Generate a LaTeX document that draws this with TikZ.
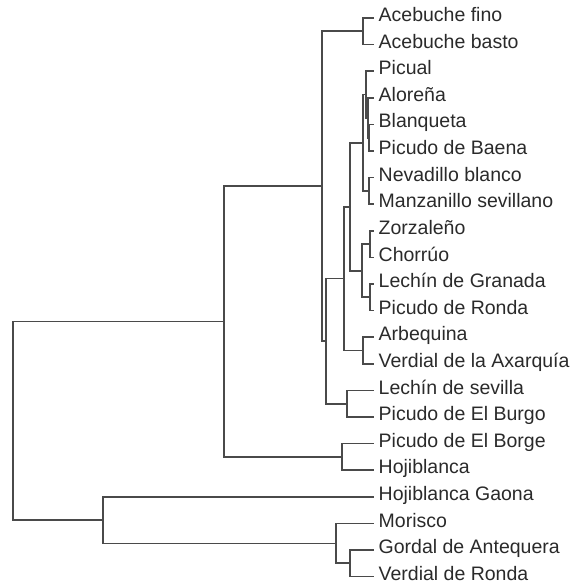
\documentclass[tikz,border=0pt]{standalone}
\usepackage{fontspec}
\setmainfont{Liberation Sans}
\definecolor{txt}{HTML}{2A2A2A}
\definecolor{ln}{HTML}{4A4A4A}
\begin{document}
\begin{tikzpicture}[x=1pt,y=-1pt,
  leaf/.style={anchor=west,inner xsep=5.5pt,inner ysep=0pt,text height=0.72em,text depth=0pt,
    font=\fontsize{19.5}{19.5}\selectfont,text=txt},
  branch/.style={draw=ln,line width=1.7pt,line cap=rect}]
\useasboundingbox (0,0) rectangle (572,585);
% leaves
\node[leaf] (l0) at (373,18.0) {Acebuche fino};
\node[leaf] (l1) at (373,44.6) {Acebuche basto};
\node[leaf] (l2) at (373,71.2) {Picual};
\node[leaf] (l3) at (373,97.8) {Aloreña};
\node[leaf] (l4) at (373,124.4) {Blanqueta};
\node[leaf] (l5) at (373,151.0) {Picudo de Baena};
\node[leaf] (l6) at (373,177.6) {Nevadillo blanco};
\node[leaf] (l7) at (373,204.2) {Manzanillo sevillano};
\node[leaf] (l8) at (373,230.8) {Zorzaleño};
\node[leaf] (l9) at (373,257.4) {Chorrúo};
\node[leaf] (l10) at (373,284.0) {Lechín de Granada};
\node[leaf] (l11) at (373,310.6) {Picudo de Ronda};
\node[leaf] (l12) at (373,337.2) {Arbequina};
\node[leaf] (l13) at (373,363.8) {Verdial de la Axarquía};
\node[leaf] (l14) at (373,390.4) {Lechín de sevilla};
\node[leaf] (l15) at (373,417.0) {Picudo de El Burgo};
\node[leaf] (l16) at (373,443.6) {Picudo de El Borge};
\node[leaf] (l17) at (373,470.2) {Hojiblanca};
\node[leaf] (l18) at (373,496.8) {Hojiblanca Gaona};
\node[leaf] (l19) at (373,523.4) {Morisco};
\node[leaf] (l20) at (373,550.0) {Gordal de Antequera};
\node[leaf] (l21) at (373,576.6) {Verdial de Ronda};
% internal nodes
\coordinate (ace) at (363,31.3);
\coordinate (p369) at (369,137.7);
\coordinate (p368) at (368,117.75);
\coordinate (p366) at (366,94.5);
\coordinate (nevman) at (369,190.9);
\coordinate (n363) at (363,142.7);
\coordinate (zorcho) at (370,244.1);
\coordinate (lecpic) at (370,297.3);
\coordinate (n362) at (362,270.7);
\coordinate (n350) at (350,206.7);
\coordinate (arb) at (363,350.5);
\coordinate (n344) at (344,278.6);
\coordinate (ls) at (347,403.7);
\coordinate (nx) at (326,341.15);
\coordinate (na) at (322,186.2);
\coordinate (eb) at (342,456.9);
\coordinate (nu) at (224,321.6);
\coordinate (gv) at (350,563.3);
\coordinate (mor) at (336,543.35);
\coordinate (nl) at (103,520.1);
\coordinate (root) at (13,420.8);
% branches
\draw[branch] (root) |- (nu);
\draw[branch] (root) |- (nl);
\draw[branch] (nu) |- (na);
\draw[branch] (nu) |- (eb);
\draw[branch] (na) |- (ace);
\draw[branch] (na) |- (nx);
\draw[branch] (ace) |- (l0.west);
\draw[branch] (ace) |- (l1.west);
\draw[branch] (nx) |- (n344);
\draw[branch] (nx) |- (ls);
\draw[branch] (n344) |- (n350);
\draw[branch] (n344) |- (arb);
\draw[branch] (n350) |- (n363);
\draw[branch] (n350) |- (n362);
\draw[branch] (n363) |- (p366);
\draw[branch] (n363) |- (nevman);
\draw[branch] (p366) |- (l2.west);
\draw[branch] (p366) |- (p368);
\draw[branch] (p368) |- (l3.west);
\draw[branch] (p368) |- (p369);
\draw[branch] (p369) |- (l4.west);
\draw[branch] (p369) |- (l5.west);
\draw[branch] (nevman) |- (l6.west);
\draw[branch] (nevman) |- (l7.west);
\draw[branch] (n362) |- (zorcho);
\draw[branch] (n362) |- (lecpic);
\draw[branch] (zorcho) |- (l8.west);
\draw[branch] (zorcho) |- (l9.west);
\draw[branch] (lecpic) |- (l10.west);
\draw[branch] (lecpic) |- (l11.west);
\draw[branch] (arb) |- (l12.west);
\draw[branch] (arb) |- (l13.west);
\draw[branch] (ls) |- (l14.west);
\draw[branch] (ls) |- (l15.west);
\draw[branch] (eb) |- (l16.west);
\draw[branch] (eb) |- (l17.west);
\draw[branch] (nl) |- (l18.west);
\draw[branch] (nl) |- (mor);
\draw[branch] (mor) |- (l19.west);
\draw[branch] (mor) |- (gv);
\draw[branch] (gv) |- (l20.west);
\draw[branch] (gv) |- (l21.west);
\end{tikzpicture}
\end{document}
